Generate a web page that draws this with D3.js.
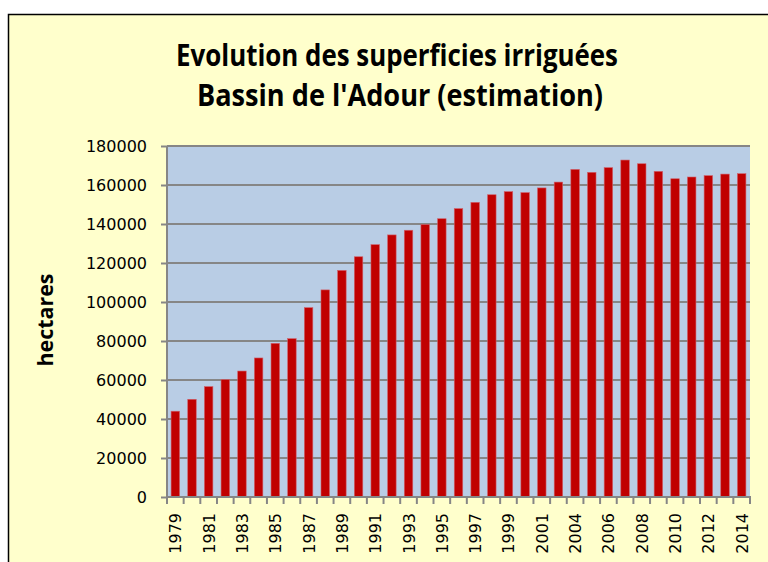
<!DOCTYPE html>
<html>
<head>
<meta charset="utf-8">
<script src="https://cdn.jsdelivr.net/npm/d3@7"></script>
<style>
  body { margin: 0; background: #fff; }
  svg { display: block; }
  .tick text { font-family: "DejaVu Sans", sans-serif; font-size: 16px; fill: #000; }
</style>
</head>
<body>
<div id="chart"></div>
<script>
// Data (2003 is absent in the source series)
const years = ["1979","1980","1981","1982","1983","1984","1985","1986","1987","1988",
  "1989","1990","1991","1992","1993","1994","1995","1996","1997","1998","1999","2000",
  "2001","2002","2004","2005","2006","2007","2008","2009","2010","2011","2012","2013","2014"];
const hectares = [44000, 50100, 56600, 60200, 64600, 71300, 78800, 81200, 97100, 106200,
  116200, 123200, 129400, 134400, 136800, 139700, 142700, 147900, 151100, 155000, 156600, 156100,
  158500, 161500, 168000, 166500, 168900, 172800, 170900, 167000, 163200, 164100, 164800, 165600, 165800];
const yTicks = [0, 20000, 40000, 60000, 80000, 100000, 120000, 140000, 160000, 180000];
const titleLines = ["Evolution des superficies irriguées", "Bassin de l'Adour (estimation)"];

const W = 768, H = 562;
const plot = {left: 167, right: 750, top: 146, bottom: 497};

const svg = d3.select("#chart").append("svg")
  .attr("width", W).attr("height", H);

// Chart frame
svg.append("rect")
  .attr("x", 8.5).attr("y", 14.5)
  .attr("width", W + 10).attr("height", H + 10)
  .attr("fill", "#ffffcc")
  .attr("stroke", "#000").attr("stroke-width", 1.5);

// Title
svg.selectAll(".title")
  .data(titleLines)
  .enter().append("text")
  .attr("class", "title")
  .attr("x", (d, i) => i === 0 ? 397 : 400)
  .attr("y", (d, i) => 66 + i * 40)
  .attr("text-anchor", "middle")
  .attr("font-family", "'Open Sans', sans-serif")
  .attr("font-weight", "bold")
  .attr("font-size", 31)
  .attr("textLength", (d, i) => i === 0 ? 442 : 406)
  .attr("lengthAdjust", "spacingAndGlyphs")
  .text(d => d);

// Scales
const x = d3.scaleBand()
  .domain(years)
  .range([plot.left, plot.right])
  .paddingInner(0.49)
  .paddingOuter(0.245);

const y = d3.scaleLinear()
  .domain([0, 180000])
  .range([plot.bottom, plot.top]);

// Plot area background
svg.append("rect")
  .attr("x", plot.left).attr("y", plot.top)
  .attr("width", plot.right - plot.left)
  .attr("height", plot.bottom - plot.top)
  .attr("fill", "#b9cde5");

// Gridlines
svg.append("g")
  .selectAll("line")
  .data(yTicks.slice(1))
  .enter().append("line")
  .attr("x1", plot.left).attr("x2", plot.right)
  .attr("y1", d => y(d)).attr("y2", d => y(d))
  .attr("stroke", "#868686").attr("stroke-width", 2);

// Bars
svg.append("g")
  .selectAll("rect")
  .data(years)
  .enter().append("rect")
  .attr("x", d => x(d))
  .attr("y", (d, i) => y(hectares[i]))
  .attr("width", x.bandwidth())
  .attr("height", (d, i) => y(0) - y(hectares[i]))
  .attr("fill", "#c00000")
  .attr("stroke", "#d0606a").attr("stroke-width", 0.6);

// Y axis
const yAxis = svg.append("g")
  .attr("transform", `translate(${plot.left},0)`)
  .call(d3.axisLeft(y).tickValues(yTicks).tickSize(6).tickPadding(14).tickFormat(d3.format("d")));
yAxis.selectAll("line, path").attr("stroke", "#868686").attr("stroke-width", 2);
yAxis.select(".domain").attr("d", `M0,${plot.top}V${plot.bottom}`);

// X axis (category ticks at band edges, label every other year)
const xAxis = svg.append("g")
  .attr("transform", `translate(0,${plot.bottom})`);
xAxis.append("line")
  .attr("x1", plot.left - 1).attr("x2", plot.right + 1)
  .attr("stroke", "#868686").attr("stroke-width", 2);
const step = x.step();
xAxis.selectAll(".xt")
  .data(d3.range(years.length + 1))
  .enter().append("line")
  .attr("class", "xt")
  .attr("x1", i => plot.left + i * step).attr("x2", i => plot.left + i * step)
  .attr("y1", 0).attr("y2", 7)
  .attr("stroke", "#868686").attr("stroke-width", 2);
xAxis.selectAll(".xl")
  .data(years.filter((d, i) => i % 2 === 0))
  .enter().append("text")
  .attr("class", "xl")
  .attr("transform", d => `translate(${x(d) + x.bandwidth() / 2 + 6},16) rotate(-90)`)
  .attr("text-anchor", "end")
  .attr("font-family", "'DejaVu Sans', sans-serif")
  .attr("font-size", 16)
  .text(d => d);

// Y axis title
svg.append("text")
  .attr("transform", "translate(53,320) rotate(-90)")
  .attr("text-anchor", "middle")
  .attr("font-family", "'Open Sans', sans-serif")
  .attr("font-weight", "bold")
  .attr("font-size", 21)
  .attr("textLength", 93)
  .attr("lengthAdjust", "spacingAndGlyphs")
  .text("hectares");
</script>
</body>
</html>
